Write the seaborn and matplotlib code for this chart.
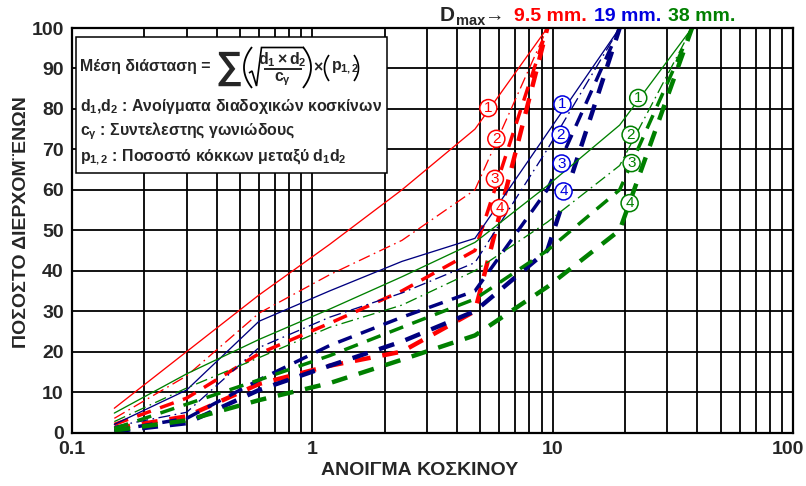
import matplotlib
matplotlib.use("Agg")
import matplotlib.pyplot as plt
import matplotlib.transforms as mtransforms
import numpy as np
import pandas as pd
import seaborn as sns
from matplotlib.patches import Rectangle
from matplotlib.lines import Line2D

# Sieve openings (mm) and percentage passing for each grading curve
sieve = [0.15, 0.3, 0.6, 1.18, 2.36, 4.75, 9.5, 19.0, 38.0]

red_1 = [6, 20, 34, 46.5, 60, 75, 100]
red_2 = [3.5, 14, 29.5, 39, 47.5, 60, 100]
red_3 = [2, 8.5, 19.5, 27, 35, 45, 100]
red_4 = [1, 4, 12, 16.5, 20, 30, 100]

blue_1 = [2, 10.5, 27.5, 35, 42.3, 48, 74, 100]
blue_2 = [1.5, 5, 21, 28.5, 34.5, 42, 70, 100]
blue_3 = [0.5, 3.5, 13, 21.5, 28.5, 35, 60, 100]
blue_4 = [0.3, 2.3, 10.5, 16.5, 22.5, 30, 45, 100]

green_1 = [4.8, 14.5, 23, 30.5, 38.5, 47, 61, 76, 100]
green_2 = [2.7, 11, 18.5, 26, 31.5, 40, 52, 66, 100]
green_3 = [1, 7, 13, 19, 26, 33, 45, 60, 100]
green_4 = [0.5, 3, 8, 12.2, 18, 24, 36, 50, 100]

# Curve number markers: (x, y) positions in data units
red_marks = [(5.40, 80.2), (5.83, 72.6), (5.75, 62.7), (6.01, 55.5)]
blue_marks = [(10.98, 81.1), (10.8, 73.6), (10.9, 66.5), (11.1, 59.6)]
green_marks = [(22.7, 82.7), (21.1, 73.6), (21.3, 66.6), (20.9, 56.7)]

x_ticks = [0.1, 1, 10, 100]
x_tick_labels = ["0.1", "1", "10", "100"]
y_ticks = list(range(0, 101, 10))

RED, NAVY, GREEN = "#FF0000", "#000080", "#008000"
BLUE_TXT = "#0000E0"

sns.set_style("white")
plt.rcParams["font.family"] = ["Liberation Sans", "DejaVu Sans"]
plt.rcParams["font.weight"] = "bold"
plt.rcParams["mathtext.fontset"] = "custom"
plt.rcParams["mathtext.rm"] = "Liberation Sans:bold"
plt.rcParams["mathtext.it"] = "Liberation Sans:bold"
plt.rcParams["mathtext.bf"] = "Liberation Sans:bold"
plt.rcParams["lines.scale_dashes"] = False

W, H = 806, 486
fig = plt.figure(figsize=(W / 100, H / 100), dpi=100)
ax = fig.add_axes([72 / W, 1 - 432.5 / H, 721 / W, 404.5 / H])

ax.set_xscale("log")
ax.set_xlim(0.1, 100)
ax.set_ylim(0, 100)

styles = [
    dict(linewidth=0.95, linestyle="-"),
    dict(linewidth=0.95, linestyle=(0, (8.6, 3.2, 1.2, 3.2))),
    dict(linewidth=2.5, linestyle=(0, (10.5, 7.0))),
    dict(linewidth=3.2, linestyle=(0, (11.5, 8.6))),
]

groups = [
    (RED, [red_1, red_2, red_3, red_4]),
    (NAVY, [blue_1, blue_2, blue_3, blue_4]),
    (GREEN, [green_1, green_2, green_3, green_4]),
]

for color, curves in groups:
    for vals, st in zip(curves, styles):
        df = pd.DataFrame({"sieve": sieve[:len(vals)], "passing": vals})
        sns.lineplot(data=df, x="sieve", y="passing", ax=ax, color=color,
                     estimator=None, sort=False, legend=False, zorder=2, **st)

# grid: decades and intermediate sieve lines
ax.set_xticks(x_ticks)
ax.set_xticklabels(x_tick_labels)
ax.set_xticks([m * d for d in (0.1, 1, 10) for m in range(2, 10)], minor=True)
ax.set_yticks(y_ticks)
ax.grid(which="both", color="black", linewidth=1.3)
ax.set_axisbelow(True)
ax.tick_params(which="both", length=0, labelsize=14, pad=6)
for sp in ax.spines.values():
    sp.set_color("black")
    sp.set_linewidth(1.6)
ax.set_xlabel("")
ax.set_ylabel("")
# keep the last decade label inside the canvas
last = ax.get_xticklabels()[-1]
last.set_transform(last.get_transform() +
                   mtransforms.ScaledTranslation(-5 / 100, 0, fig.dpi_scale_trans))

# numbered markers on curves
for color, marks in ((RED, red_marks), (BLUE_TXT, blue_marks), (GREEN, green_marks)):
    for i, (mx, my) in enumerate(marks, start=1):
        ax.text(mx, my, str(i), color=color, fontsize=11, fontweight="normal",
                ha="center", va="center", zorder=6,
                bbox=dict(boxstyle="circle,pad=0.1", fc="white", ec=color, lw=1.1))

# explanatory box
ax.add_patch(Rectangle((4 / 721, (432.5 - 173) / 404.5), 311 / 721, 136 / 404.5,
                       transform=ax.transAxes, fc="white", ec="black", lw=1.1, zorder=4))


def fx(px):
    return px / W


def fy(py):
    return 1 - py / H


def fline(xs, ys, lw=1.2):
    fig.add_artist(Line2D([fx(v) for v in xs], [fy(v) for v in ys],
                          transform=fig.transFigure, color="black", lw=lw,
                          solid_joinstyle="miter", solid_capstyle="butt", zorder=8))


def paren(x_end, x_bulge, y_top, y_bot, lw=1.3):
    # curved bracket drawn from its tips and the bulge position (pixels)
    t = np.linspace(-1, 1, 40)
    yc, half = (y_top + y_bot) / 2, (y_bot - y_top) / 2
    xs = x_bulge + (x_end - x_bulge) * t ** 2
    ys = yc + half * t
    fline(xs, ys, lw)


fs = 11.4
txt = dict(va="center", ha="left", zorder=8)
fig.text(fx(80), fy(67), "Μέση διάσταση =", fontsize=fs, **txt)
fig.text(fx(215), fy(68), "∑", fontsize=27, **txt)
paren(252, 244, 47, 88)
fline([249, 252, 256.5, 261.5, 304], [73, 71, 86, 47.5, 47.5])
fig.text(fx(282), fy(60), r"$d_1\times d_2$", fontsize=fs, va="center", ha="center", zorder=8)
fline([264, 302], [69, 69])
fig.text(fx(282), fy(79), r"$c_\gamma$", fontsize=fs, va="center", ha="center", zorder=8)
paren(303, 311, 47, 88)
fig.text(fx(313), fy(68), "×", fontsize=fs, **txt)
paren(329, 324.5, 55, 81, lw=1.2)
fig.text(fx(331), fy(68), r"$p_{1,2}$", fontsize=fs, **txt)
paren(354, 358.5, 55, 81, lw=1.2)

fig.text(fx(80), fy(107), r"$d_1$,$d_2$ : Ανοίγματα διαδοχικών κοσκίνων", fontsize=fs, **txt)
fig.text(fx(80), fy(131), r"$c_\gamma$ : Συντελεστης γωνιώδους", fontsize=fs, **txt)
fig.text(fx(80), fy(157), r"$p_{1,2}$ : Ποσοστό κόκκων μεταξύ $d_1d_2$", fontsize=fs, **txt)

# maximum aggregate size header
fig.text(fx(440), fy(21), "D", fontsize=15, va="baseline", ha="left")
fig.text(fx(456), fy(25), "max", fontsize=10.5, va="baseline", ha="left")
fig.text(fx(484), fy(21), "→", fontsize=14, va="baseline", ha="left")
fig.text(fx(514), fy(21), "9.5 mm.", fontsize=14, va="baseline", ha="left", color=RED)
fig.text(fx(594), fy(21), "19 mm.", fontsize=14, va="baseline", ha="left", color=BLUE_TXT)
fig.text(fx(668), fy(21), "38 mm.", fontsize=14, va="baseline", ha="left", color=GREEN)

# axis titles
fig.text(fx(22), fy(222), "ΠΟΣΟΣΤΟ ΔΙΕΡΧΟΜ¨ΕΝΩΝ", rotation=90, fontsize=14,
         ha="center", va="center")
fig.text(fx(420), fy(470), "ΑΝΟΙΓΜΑ ΚΟΣΚΙΝΟΥ", fontsize=14, ha="center", va="center")

fig.savefig("out.png", dpi=100)
